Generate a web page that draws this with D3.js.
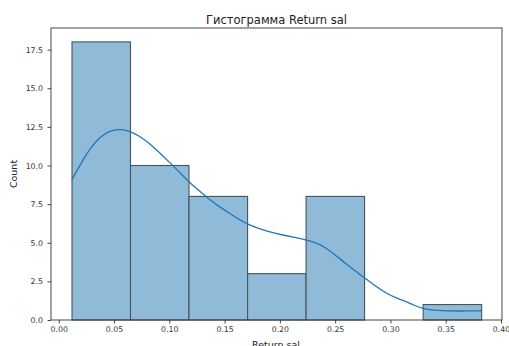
<!DOCTYPE html>
<html>
<head>
<meta charset="utf-8">
<script src="https://cdn.jsdelivr.net/npm/d3@7"></script>
<style>
  html, body { margin: 0; padding: 0; background: #fff; }
  svg { display: block; font-family: "DejaVu Sans", sans-serif; }
</style>
</head>
<body>
<svg id="chart" width="509" height="346"></svg>
<script>
// Histogram bins (edges) and counts for Return sal
const binEdges = [0.0120, 0.0649, 0.1178, 0.1708, 0.2237, 0.2766, 0.3296, 0.3825];
const counts = [18, 10, 8, 3, 8, 0, 1];

// Kernel density estimate, scaled to counts
const kdeX = [0.0118, 0.0193, 0.0283, 0.0374, 0.0464, 0.0554, 0.0645, 0.0736, 0.0826, 0.0916,
              0.1007, 0.1097, 0.1188, 0.1278, 0.1368, 0.1429, 0.1579, 0.1709, 0.1881, 0.2032,
              0.2150, 0.2240, 0.2331, 0.2421, 0.2511, 0.2602, 0.2692, 0.2737, 0.2873, 0.2963,
              0.3054, 0.3144, 0.3207, 0.3290, 0.3358, 0.3509, 0.3660, 0.3825];
const kdeY = [9.07, 10.04, 11.10, 11.88, 12.25, 12.36, 12.22, 11.88, 11.40, 10.80,
              10.17, 9.53, 8.86, 8.32, 7.78, 7.45, 6.74, 6.16, 5.73, 5.49,
              5.32, 5.18, 5.01, 4.65, 4.15, 3.61, 3.13, 2.87, 2.16, 1.73,
              1.41, 1.19, 0.97, 0.75, 0.65, 0.58, 0.58, 0.60];

const xTicks = [0.00, 0.05, 0.10, 0.15, 0.20, 0.25, 0.30, 0.35, 0.40];
const yTicks = [0.0, 2.5, 5.0, 7.5, 10.0, 12.5, 15.0, 17.5];

const title = "Гистограмма Return sal";
const xLabel = "Return sal";
const yLabel = "Count";

const W = 509, H = 346;
const margin = { top: 28, right: 7, bottom: 26, left: 51 };
const iw = W - margin.left - margin.right;
const ih = H - margin.top - margin.bottom;

const svg = d3.select("#chart");
const g = svg.append("g").attr("transform", `translate(${margin.left},${margin.top})`);

const x = d3.scaleLinear().domain([-0.0070, 0.4009]).range([0, iw]);
const y = d3.scaleLinear().domain([0, 18.9]).range([ih, 0]);

// bars
const bins = counts.map((c, i) => ({ x0: binEdges[i], x1: binEdges[i + 1], c }));
g.append("g").selectAll("rect").data(bins.filter(d => d.c > 0)).join("rect")
  .attr("x", d => x(d.x0))
  .attr("y", d => y(d.c))
  .attr("width", d => x(d.x1) - x(d.x0))
  .attr("height", d => y(0) - y(d.c))
  .attr("fill", "#8fbbd9")
  .attr("stroke", "#48535c")
  .attr("stroke-width", 1.1);

// kde curve
const line = d3.line()
  .x((d, i) => x(kdeX[i]))
  .y(d => y(d))
  .curve(d3.curveBasis);
g.append("path")
  .attr("d", line(kdeY))
  .attr("fill", "none")
  .attr("stroke", "#1f77b4")
  .attr("stroke-width", 1.3);

// axes
const fmtX = d3.format(".2f"), fmtY = d3.format(".1f");
const xAxis = g.append("g").attr("transform", `translate(0,${ih})`)
  .call(d3.axisBottom(x).tickValues(xTicks).tickFormat(fmtX).tickSize(3.5).tickPadding(3));
const yAxis = g.append("g")
  .call(d3.axisLeft(y).tickValues(yTicks).tickFormat(fmtY).tickSize(3.5).tickPadding(4.5));
[xAxis, yAxis].forEach(a => {
  a.select(".domain").remove();
  a.selectAll(".tick line").attr("stroke", "#333").attr("stroke-width", 0.9);
  a.selectAll(".tick text").attr("fill", "#333").style("font-size", "7.8px")
    .style("font-family", "DejaVu Sans, sans-serif");
});

// frame
g.append("rect").attr("x", 0).attr("y", 0).attr("width", iw).attr("height", ih)
  .attr("fill", "none").attr("stroke", "#333").attr("stroke-width", 0.9);

// texts
svg.append("text").attr("x", margin.left + iw / 2).attr("y", 24)
  .attr("text-anchor", "middle").attr("fill", "#222")
  .style("font-size", "11.5px").text(title);
svg.append("text").attr("x", margin.left + iw / 2 - 0.5).attr("y", 347.5)
  .attr("text-anchor", "middle").attr("fill", "#222")
  .style("font-size", "9.5px").text(xLabel);
svg.append("text")
  .attr("transform", `translate(16.5,${margin.top + ih / 2}) rotate(-90)`)
  .attr("text-anchor", "middle").attr("fill", "#222")
  .style("font-size", "9.5px").text(yLabel);
</script>
</body>
</html>
